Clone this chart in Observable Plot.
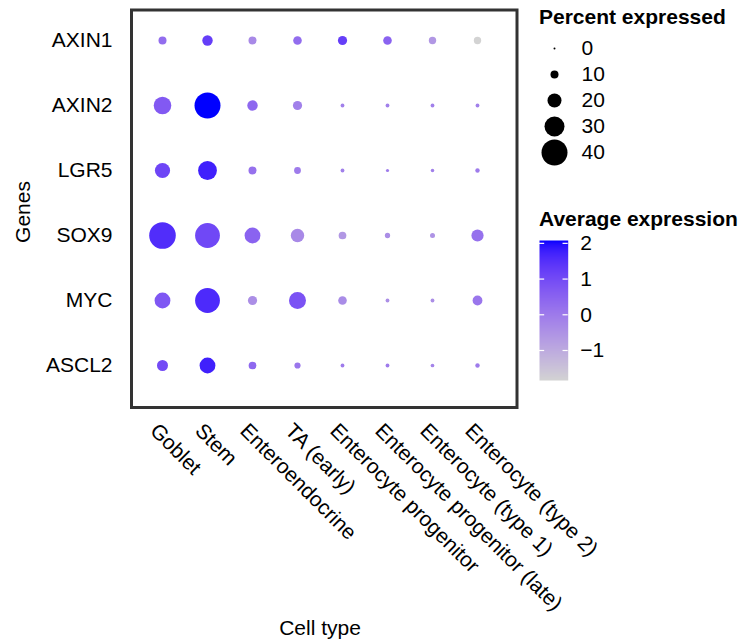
<!DOCTYPE html>
<html><head><meta charset="utf-8">
<script src="https://cdn.jsdelivr.net/npm/d3@7"></script>
<script src="https://cdn.jsdelivr.net/npm/@observablehq/plot@0.6"></script>
<style>
body{margin:0;background:#fff;font-family:"Liberation Sans",Arial,Helvetica,sans-serif;}
#wrap{position:relative;width:744px;height:643px;overflow:hidden;}
#wrap svg{position:absolute;left:0;top:0;}
.lbl{position:absolute;font-size:21px;color:#000;white-space:nowrap;line-height:21px;}
.bold{font-weight:bold;}
</style></head><body><div id="wrap"></div>
<script>
const genes = ["AXIN1","AXIN2","LGR5","SOX9","MYC","ASCL2"];
const cellTypes = ["Goblet","Stem","Enteroendocrine","TA (early)","Enterocyte progenitor","Enterocyte progenitor (late)","Enterocyte (type 1)","Enterocyte (type 2)"];

// Percent expressed, per gene (order of cellTypes)
const pctAXIN1 = [10,14,10,11,12,11,9,9];
const pctAXIN2 = [26,40,14,12,3,3,3,3];
const pctLGR5  = [22,28,10,8,3,2,2.5,4];
const pctSOX9  = [41,38,23,19,9.5,5.5,5,17];
const pctMYC   = [23,38,12,25,11,3,3,13];
const pctASCL2 = [15,23,9.5,7,3,3,2.8,4];

// Average expression, per gene
const avgAXIN1 = [0.3,1.25,-0.3,0.3,1.25,0.5,-0.6,-1.84];
const avgAXIN2 = [0.7,2.08,0.4,-0.1,-0.1,-0.1,-0.1,-0.1];
const avgLGR5  = [1.1,1.75,0.2,0.0,-0.1,0,-0.1,0];
const avgSOX9  = [1.55,1.05,0.5,-0.3,-0.6,-0.4,-0.5,0.2];
const avgMYC   = [0.75,1.6,-0.4,0.85,-0.35,-0.4,-0.4,0.1];
const avgASCL2 = [1.0,1.75,0.4,0.1,0,0,-0.2,0];

const sizeBreaks = [0,10,20,30,40];
const colorTicks = [-1,0,1,2];
const colorLimits = [-1.84, 2.08];

const pctRows = [pctAXIN1,pctAXIN2,pctLGR5,pctSOX9,pctMYC,pctASCL2];
const avgRows = [avgAXIN1,avgAXIN2,avgLGR5,avgSOX9,avgMYC,avgASCL2];
const table = [];
genes.forEach((g,i)=>cellTypes.forEach((c,j)=>table.push({gene:g,cell:c,pct:pctRows[i][j],avg:avgRows[i][j]})));

const font = '"Liberation Sans",Arial,Helvetica,sans-serif';
const FS = 21;
const rScale = {type:"linear", domain:[0,40], range:[1,13]};
const colorScale = {type:"linear", domain:colorLimits, range:["lightgrey","blue"], interpolate:d3.interpolateLab};

const main = Plot.plot({
  width:744, height:643,
  marginLeft:131, marginRight:227.5, marginTop:9.5, marginBottom:236,
  style:{fontFamily:font, fontSize:FS+"px", color:"#000", background:"transparent"},
  x:{type:"point", domain:cellTypes, range:[161.8,478], padding:0, axis:null},
  y:{type:"point", domain:genes, range:[40,365.5], padding:0, axis:null},
  r:rScale,
  color:colorScale,
  marks:[
    Plot.dot(table,{x:"cell",y:"gene",r:"pct",fill:"avg"}),
    Plot.frame({stroke:"#333", strokeWidth:3}),
    Plot.axisY({tickSize:0, tickPadding:19, label:null, fontSize:FS, fill:"#000"}),
    Plot.text(cellTypes,{x:d=>d, frameAnchor:"bottom", rotate:45, textAnchor:"start", lineAnchor:"top", dy:14, dx:-3, fontSize:FS, fill:"#000"})
  ]
});

const sizeLeg = Plot.plot({
  width:744, height:643, margin:0,
  style:{fontFamily:font, fontSize:FS+"px", color:"#000", background:"transparent"},
  x:{domain:[0,1], range:[554,581], axis:null},
  y:{type:"point", domain:sizeBreaks, range:[46.7,154], padding:0, axis:null},
  r:rScale,
  marks:[
    Plot.dot(sizeBreaks,{x:()=>0, y:d=>d, r:d=>d, fill:"black"}),
    Plot.text(sizeBreaks,{x:()=>1, y:d=>d, text:d=>String(d), textAnchor:"start", fontSize:FS, fill:"#000"})
  ]
});

const fmt = d => d < 0 ? "\u2212" + Math.abs(d) : String(d);
const colLeg = Plot.plot({
  width:744, height:643, margin:0,
  style:{fontFamily:font, fontSize:FS+"px", color:"#000", background:"transparent"},
  x:{domain:[0,1], range:[539,567.7], axis:null},
  y:{domain:colorLimits, range:[380,240], axis:null},
  color:colorScale,
  marks:[
    Plot.raster({x1:0, x2:1, y1:colorLimits[0], y2:colorLimits[1], fill:(x,y)=>y, pixelSize:1}),
    Plot.ruleY(colorTicks,{y:d=>d, x1:0, x2:0.18, stroke:"white", strokeWidth:1.2}),
    Plot.ruleY(colorTicks,{y:d=>d, x1:0.82, x2:1, stroke:"white", strokeWidth:1.2}),
    Plot.text(colorTicks,{x:()=>1, y:d=>d, text:fmt, textAnchor:"start", dx:12, fontSize:FS, fill:"#000"})
  ]
});

const wrap = document.getElementById("wrap");
wrap.append(main, sizeLeg, colLeg);

function addLabel(text, css, cls){
  const d = document.createElement("div");
  d.className = "lbl " + (cls||"");
  d.textContent = text;
  Object.assign(d.style, css);
  wrap.append(d);
}
addLabel("Percent expressed", {left:"539px", top:"6px"}, "bold");
addLabel("Average expression", {left:"539px", top:"208px"}, "bold");
addLabel("Cell type", {left:"320px", top:"617px", transform:"translateX(-50%)"});
addLabel("Genes", {left:"22px", top:"212px", transform:"translate(-50%,-50%) rotate(-90deg)"});
</script></body></html>
